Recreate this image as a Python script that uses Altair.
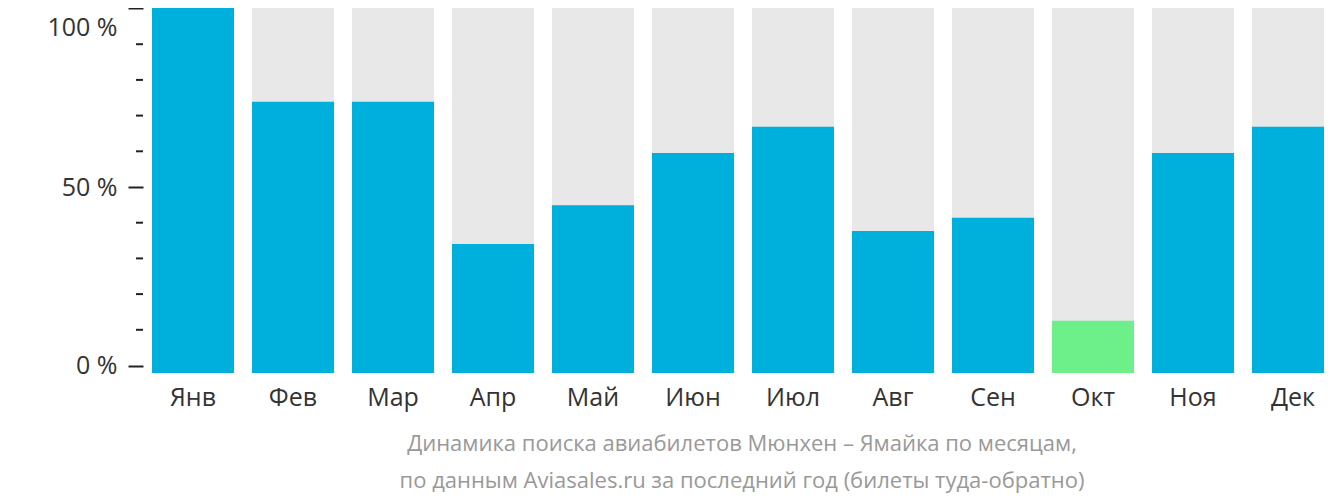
import altair as alt
import pandas as pd

months = ["Янв", "Фев", "Мар", "Апр", "Май", "Июн", "Июл", "Авг", "Сен", "Окт", "Ноя", "Дек"]
share = [100, 72.7, 72.7, 34.6, 45.0, 59.0, 66.0, 38.1, 41.6, 14.0, 59.0, 66.0]
full = [100] * 12
axis_ticks = [0, 10, 20, 30, 40, 50, 60, 70, 80, 90, 100]
axis_labels = [0, 50, 100]
title_lines = [
    "Динамика поиска авиабилетов Мюнхен – Ямайка по месяцам,",
    "по данным Aviasales.ru за последний год (билеты туда-обратно)",
]

low = min(share)
df = pd.DataFrame({
    "month": months,
    "share": share,
    "full": full,
    "kind": ["low" if v == low else "normal" for v in share],
})
ticks_df = pd.DataFrame({"t": [t for t in axis_ticks if t not in axis_labels]})

FONT = "Open Sans"
bar_scale = alt.Scale(domain=[0, 97.86], nice=False, zero=False)
x_enc = alt.X(
    "month:N",
    sort=months,
    scale=alt.Scale(range=[0, 1200], paddingInner=0.18, paddingOuter=0.09),
    axis=alt.Axis(
        title=None, domain=False, ticks=False, labelAngle=0,
        labelFont=FONT, labelFontSize=25, labelColor="#333333",
        labelPadding=12, labelBaseline="top",
    ),
)

bg = alt.Chart(df).mark_bar(color="#e8e8e8").encode(
    x=x_enc,
    y=alt.Y("full:Q", scale=bar_scale, axis=None),
)

fg = alt.Chart(df).mark_bar().encode(
    x=x_enc,
    y=alt.Y("share:Q", scale=bar_scale, axis=None),
    color=alt.Color(
        "kind:N",
        scale=alt.Scale(domain=["normal", "low"], range=["#00b0dc", "#6df08a"]),
        legend=None,
    ),
)

ticks = alt.Chart(ticks_df).mark_rule(color="#222222", strokeWidth=2).encode(
    y=alt.Y(
        "t:Q",
        scale=alt.Scale(domain=[-2.1, 100.14], nice=False, zero=False),
        axis=alt.Axis(
            orient="left", title=None, values=axis_labels, domain=False,
            grid=False, tickSize=15, tickWidth=2, tickColor="#222222",
            labelExpr="datum.value + ' %'", labelFont=FONT, labelFontSize=25,
            labelColor="#333333", labelPadding=11,
            labelBaseline={"condition": {"test": "datum.value == 100", "value": "top"},
                           "value": "middle"},
            labelOffset={"condition": {"test": "datum.value == 100", "value": 7},
                         "value": 0},
        ),
    ),
    x=alt.value(-7),
    x2=alt.value(0),
)

chart = alt.layer(bg, fg, ticks).resolve_scale(y="independent").properties(
    width=1181,
    height=365,
    autosize=alt.AutoSizeParams(type="none"),
    padding={"left": 135, "top": 0, "right": 0, "bottom": 121},
    title=alt.Title(
        title_lines, orient="bottom", anchor="middle", frame="group",
        font=FONT, fontSize=22, fontWeight="normal", color="#999999",
        lineHeight=37, offset=24, dx=8.5,
    ),
).configure_view(stroke=None)

chart.save("out.html", embed_options={"renderer": "svg", "actions": False})
